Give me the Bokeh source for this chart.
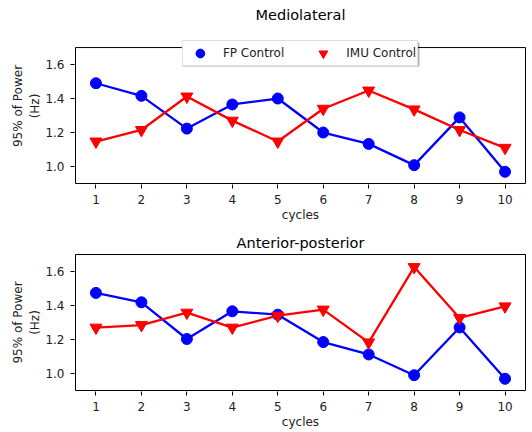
from bokeh.plotting import figure
from bokeh.layouts import column
from bokeh.models import (Legend, LegendItem, FixedTicker, Range1d,
                          NumeralTickFormatter, BoxAnnotation)
from bokeh.embed import file_html
from bokeh.resources import INLINE

cycles = [1, 2, 3, 4, 5, 6, 7, 8, 9, 10]
ml_fp = [1.49, 1.416, 1.223, 1.365, 1.40, 1.20, 1.133, 1.008, 1.289, 0.969]
ml_imu = [1.147, 1.215, 1.412, 1.27, 1.147, 1.34, 1.447, 1.336, 1.215, 1.11]
ap_fp = [1.474, 1.419, 1.203, 1.366, 1.346, 1.185, 1.112, 0.99, 1.271, 0.969]
ap_imu = [1.27, 1.285, 1.358, 1.27, 1.34, 1.376, 1.183, 1.626, 1.327, 1.395]
x_ticks = [1, 2, 3, 4, 5, 6, 7, 8, 9, 10]
y_ticks = [1.0, 1.2, 1.4, 1.6]
titles = ["Mediolateral", "Anterior-posterior"]
series_names = ["FP Control", "IMU Control"]

FONT = "DejaVu Sans"
TXT = "#222222"
X0, X1 = 0.55, 10.45
Y0, Y1 = 0.9, 1.7
PX_X = 450 / (X1 - X0)     # pixels per x unit inside the axes box
PX_Y = 169.5               # pixels per y unit inside the axes box


def make(title, fp, imu, pad_top, standoff, legend):
    frame_h = int(round((Y1 - Y0) * PX_Y)) + 1 + pad_top
    p = figure(frame_width=452, frame_height=frame_h,
               output_backend="svg", toolbar_location=None,
               x_range=Range1d(X0 - 1 / PX_X, X1 + 1 / PX_X),
               y_range=Range1d(Y0 - 1 / PX_Y, Y1 + pad_top / PX_Y),
               min_border_left=74, min_border_right=0,
               min_border_top=0, min_border_bottom=0)
    p.title.text = title
    p.title.align = "center"
    p.title.text_font = FONT
    p.title.text_font_size = "14.5px"
    p.title.text_font_style = "normal"
    p.title.text_color = "black"
    p.title.standoff = standoff
    p.grid.visible = False
    p.outline_line_color = None
    p.background_fill_color = "white"
    p.border_fill_color = "white"
    # axes box (the matplotlib spines)
    p.add_layout(BoxAnnotation(left=X0, right=X1, bottom=Y0, top=Y1,
                               fill_alpha=0, line_color="black", line_alpha=1.0,
                               line_width=1, line_dash="solid"))
    for ax in (p.xaxis, p.yaxis):
        ax.major_tick_out = 4
        ax.major_tick_in = 0
        ax.minor_tick_line_color = None
        ax.major_label_text_font = FONT
        ax.major_label_text_font_size = "12px"
        ax.major_label_text_color = TXT
        ax.axis_label_text_font = FONT
        ax.axis_label_text_font_size = "12px"
        ax.axis_label_text_font_style = "normal"
        ax.axis_label_text_color = TXT
        ax.axis_line_color = None
        ax.major_tick_line_color = "black"
    p.xaxis.ticker = FixedTicker(ticks=x_ticks)
    p.yaxis.ticker = FixedTicker(ticks=y_ticks)
    p.yaxis.formatter = NumeralTickFormatter(format="0.0")
    p.xaxis.axis_label = "cycles"
    p.yaxis.axis_label = "95% of Power\n(Hz)"
    p.yaxis.axis_label_text_line_height = 1.25
    p.xaxis.major_label_standoff = 6
    p.xaxis.axis_label_standoff = 1
    p.yaxis.major_label_standoff = 6
    p.yaxis.axis_label_standoff = 0

    p.line(cycles, fp, line_color="blue", line_width=2.3)
    s1 = p.scatter(cycles, fp, marker="circle", size=11, fill_color="blue", line_color="blue")
    p.line(cycles, imu, line_color="red", line_width=2.3)
    s2 = p.scatter(cycles, imu, marker="inverted_triangle", size=12, fill_color="red", line_color="red")
    if legend:
        top_gap = pad_top - 7  # legend top sits 7 px above the axes box
        shadow = BoxAnnotation(left=108, right=345,
                               top=frame_h - top_gap - 2, bottom=frame_h - top_gap - 26,
                               left_units="screen", right_units="screen",
                               top_units="screen", bottom_units="screen",
                               fill_color="black", fill_alpha=0.3, line_color=None)
        p.add_layout(shadow)
        lg = Legend(items=[LegendItem(label=series_names[0], renderers=[s1]),
                           LegendItem(label=series_names[1], renderers=[s2])],
                    orientation="horizontal", location="top_center",
                    label_text_font=FONT, label_text_font_size="12px",
                    label_text_color=TXT,
                    glyph_width=32, glyph_height=22, label_height=22,
                    label_standoff=7, spacing=23,
                    padding=1, margin=top_gap, border_line_color="#c0c0c0",
                    border_line_width=1, background_fill_alpha=1.0)
        p.add_layout(lg, "center")
    return p


p1 = make(titles[0], ml_fp, ml_imu, 20, 9, True)
p2 = make(titles[1], ap_fp, ap_imu, 1, 5, False)
layout = column(p1, p2, spacing=6)

open("out.html", "w").write(file_html(layout, INLINE))
